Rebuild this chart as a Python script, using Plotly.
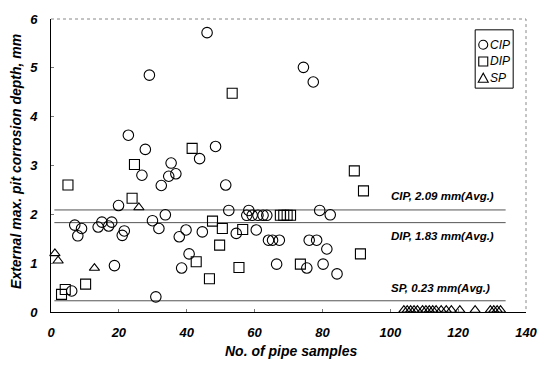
import plotly.graph_objects as go

# ---------------- data ----------------
cip_x = [6.1, 7.0, 9.0, 7.9, 13.9, 15.0, 17.0, 17.9, 18.7, 19.9, 21.0, 21.6, 22.8,
         26.8, 27.8, 29.0, 29.9, 30.9, 31.8, 32.5, 33.7, 34.7, 35.4, 36.8, 37.8,
         38.5, 39.8, 40.7, 43.8, 44.6, 46.0, 48.5, 51.5, 52.4, 54.6, 58.3,
         57.7, 59.3, 61.0, 62.5, 63.6, 60.5, 64.1, 65.3, 67.3, 66.5,
         74.4, 77.3, 79.2, 82.3, 76.1, 78.3, 81.3, 75.4, 80.2, 84.3]
cip_y = [0.43, 1.78, 1.71, 1.56, 1.74, 1.84, 1.76, 1.84, 0.95, 2.18, 1.57, 1.66, 3.62,
         2.80, 3.33, 4.85, 1.87, 0.31, 1.71, 2.59, 1.99, 2.78, 3.05, 2.83, 1.54,
         0.90, 1.68, 1.19, 3.14, 1.64, 5.72, 3.39, 2.60, 2.08, 1.61, 2.08,
         1.98, 1.98, 1.98, 1.98, 1.98, 1.68, 1.47, 1.47, 1.47, 0.98,
         5.01, 4.71, 2.08, 1.99, 1.47, 1.47, 1.29, 0.90, 0.98, 0.78]

dip_x = [5.0, 3.1, 4.2, 10.2, 23.9, 24.6, 41.6, 53.4, 47.6, 50.5, 56.5, 49.7,
         42.8, 55.4, 46.7, 67.6, 68.6, 69.6, 70.6, 73.5, 89.4, 92.1, 91.2]
dip_y = [2.60, 0.36, 0.46, 0.57, 2.33, 3.02, 3.35, 4.48, 1.86, 1.71, 1.69, 1.37,
         1.03, 0.91, 0.68, 1.98, 1.98, 1.98, 1.98, 0.98, 2.89, 2.48, 1.19]

sp_x = [1.15, 2.1, 12.8, 25.9,
        104, 105, 106, 107, 108, 109.5, 110.5, 111.5, 112.5, 113.5, 115, 116.5,
        118, 120.5, 125, 129.5, 130.5, 131.5, 132.5]
sp_y = [1.20, 1.05, 0.90, 2.14] + [0.04] * 19

avg_x = [1, 134]
avg_values = [2.09, 1.83, 0.23]
avg_labels = ["CIP, 2.09 mm(Avg.)", "DIP, 1.83 mm(Avg.)", "SP, 0.23 mm(Avg.)"]
avg_label_y = [2.38, 1.56, 0.50]

x_ticks = [0, 20, 40, 60, 80, 100, 120, 140]
y_ticks = [0, 1, 2, 3, 4, 5, 6]

legend_names = ["CIP", "DIP", "SP"]

FONT = "Liberation Sans, Arial, sans-serif"

fig = go.Figure()

# average lines
for v in avg_values:
    fig.add_trace(go.Scatter(x=avg_x, y=[v, v], mode="lines",
                             line=dict(color="#555555", width=1),
                             showlegend=False, hoverinfo="skip"))

mk_line = dict(color="black", width=1.1)
fig.add_trace(go.Scatter(x=cip_x, y=cip_y, mode="markers", name="CIP",
                         marker=dict(symbol="circle-open", size=10.5, color="black", line=mk_line),
                         showlegend=False, cliponaxis=False))
fig.add_trace(go.Scatter(x=dip_x, y=dip_y, mode="markers", name="DIP",
                         marker=dict(symbol="square-open", size=10, color="black", line=mk_line),
                         showlegend=False, cliponaxis=False))
fig.add_trace(go.Scatter(x=sp_x, y=sp_y, mode="markers", name="SP",
                         marker=dict(symbol="triangle-up-open", size=9, color="black", line=mk_line),
                         showlegend=False, cliponaxis=False))

tickfont = dict(family=FONT, size=13, color="black", weight="bold", style="italic")

fig.update_xaxes(range=[0, 140], tickvals=x_ticks, ticktext=[str(t) for t in x_ticks],
                 showgrid=False, zeroline=False, showline=True, linecolor="black", linewidth=1,
                 ticks="inside", ticklen=3, tickcolor="#777777",
                 tickfont=tickfont, ticklabelstandoff=8)
fig.update_yaxes(range=[0, 6], tickvals=y_ticks, ticktext=[str(t) for t in y_ticks],
                 showgrid=False, zeroline=False, showline=True, linecolor="black", linewidth=1,
                 ticks="inside", ticklen=3, tickcolor="#777777",
                 tickfont=tickfont, ticklabelstandoff=10)

annotations = []
for lab, ly in zip(avg_labels, avg_label_y):
    annotations.append(dict(x=99.5, y=ly, xref="x", yref="y", text=lab, showarrow=False,
                            xanchor="left", yanchor="middle",
                            font=dict(family=FONT, size=11.5, color="black",
                                      weight="bold", style="italic")))
# axis titles
annotations.append(dict(x=0.505, y=-0.134, xref="paper", yref="paper",
                        text="No. of pipe samples", showarrow=False,
                        xanchor="center", yanchor="middle",
                        font=dict(family=FONT, size=14, color="black",
                                  weight="bold", style="italic")))
annotations.append(dict(x=-0.074, y=0.515, xref="paper", yref="paper",
                        text="External max. pit corrosion depth, mm", showarrow=False,
                        textangle=-90, xanchor="center", yanchor="middle",
                        font=dict(family=FONT, size=14, color="black",
                                  weight="bold", style="italic")))

# custom compact legend
leg_y = [0.912, 0.855, 0.798]
sym_x = 0.910
for name, yy in zip(legend_names, leg_y):
    annotations.append(dict(x=0.919, y=yy, xref="paper", yref="paper", text=name,
                            showarrow=False, xanchor="left", yanchor="middle",
                            font=dict(family=FONT, size=12, color="black", style="italic")))

shapes = [
    # dotted top and right frame
    dict(type="line", xref="paper", yref="paper", x0=0, x1=1, y0=1, y1=1,
         line=dict(color="#888888", width=1, dash="dot")),
    dict(type="line", xref="paper", yref="paper", x0=1, x1=1, y0=0.01, y1=1,
         line=dict(color="#888888", width=1, dash="dot")),
    # legend box
    dict(type="rect", xref="paper", yref="paper", x0=0.893, x1=0.973, y0=0.764, y1=0.963,
         line=dict(color="black", width=1), fillcolor="white", layer="below"),
    # legend symbols
    dict(type="circle", xref="paper", yref="paper", xsizemode="pixel", ysizemode="pixel",
         xanchor=sym_x, yanchor=leg_y[0], x0=-4.5, x1=4.5, y0=-4.5, y1=4.5,
         line=dict(color="black", width=1.1)),
    dict(type="rect", xref="paper", yref="paper", xsizemode="pixel", ysizemode="pixel",
         xanchor=sym_x, yanchor=leg_y[1], x0=-4.5, x1=4.5, y0=-4.5, y1=4.5,
         line=dict(color="black", width=1.1)),
    dict(type="path", xref="paper", yref="paper", xsizemode="pixel", ysizemode="pixel",
         xanchor=sym_x, yanchor=leg_y[2], path="M-5,-4 L5,-4 L0,5 Z",
         line=dict(color="black", width=1.1)),
]

fig.update_layout(width=550, height=366,
                  margin=dict(l=51, r=12, t=15, b=54),
                  paper_bgcolor="white", plot_bgcolor="white",
                  showlegend=False, annotations=annotations, shapes=shapes,
                  font=dict(family=FONT, color="black"))

fig.write_html("out.html")
